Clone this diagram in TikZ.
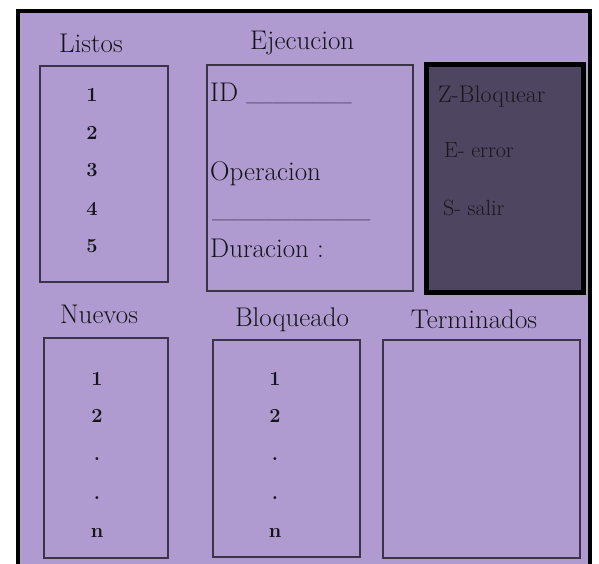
\documentclass[tikz,border=0pt]{standalone}
\begin{document}
\begin{tikzpicture}[x=1pt,y=-1pt,
  listbox/.style={draw=boxline,line width=1.1pt,inner sep=0pt,outer sep=0pt,fill=lavfill},
  hdr/.style={anchor=base,inner sep=0pt,text=txt,font=\fontsize{27}{30}\selectfont},
  hdrw/.style={anchor=base west,inner sep=0pt,text=txt,font=\fontsize{27}{30}\selectfont},
  num/.style={anchor=base,inner sep=0pt,text=txt,font=\fontsize{20}{22}\selectfont\bfseries},
  keytxt/.style={anchor=base west,inner sep=0pt,text=keytext,font=\fontsize{22}{24}\selectfont}]
\definecolor{lavfill}{RGB}{176,155,208}
\definecolor{darkfill}{RGB}{78,69,96}
\definecolor{boxline}{RGB}{60,52,70}
\definecolor{txt}{RGB}{22,20,26}
\definecolor{keytext}{RGB}{25,22,30}
\definecolor{dashline}{RGB}{50,44,60}
\useasboundingbox (0,0) rectangle (599,564);
% outer frame
\fill[white] (0,0) rectangle (599,564);
\fill[lavfill] (17.5,11.5) rectangle (589.5,564);
\draw[black,line width=4pt] (17.5,564) -- (17.5,11.5) -- (589.5,11.5) -- (589.5,564);
% boxes
\node[listbox,minimum width=128pt,minimum height=216pt] (listos) at (104,174) {};
\node[listbox,minimum width=206pt,minimum height=226pt] (ejec) at (310,178) {};
\fill[black!35,opacity=0.5] (427,66) rectangle (587.5,297);
\node[draw=black,line width=5pt,fill=darkfill,inner sep=0pt,outer sep=0pt,minimum width=157pt,minimum height=228pt] (keys) at (505,178.5) {};
\node[listbox,minimum width=124pt,minimum height=220pt] (nuevos) at (106,448) {};
\node[listbox,minimum width=147pt,minimum height=217pt] (bloq) at (286.5,448.5) {};
\node[listbox,minimum width=197pt,minimum height=218pt] (term) at (481.5,449) {};
% headers
\node[hdr] (tListos) at (91,53) {Listos};
\node[hdrw] (tEjec) at (250,50) {Ejecucion};
\node[hdr] (tNuevos) at (99,323) {Nuevos};
\node[hdr] (tBloq) at (292,326) {Bloqueado};
\node[hdr] (tTerm) at (474,328) {Terminados};
% Ejecucion contents
\node[hdrw] (tID) at (210,102) {ID {\fontsize{15.5}{17}\selectfont\color{dashline}\bfseries\_\_\_\_\_\_\_\_}};
\node[hdrw] (tOp) at (210,180) {Operacion};
\node[hdrw,font=\fontsize{15.5}{17}\selectfont\bfseries,text=dashline] (tLine) at (212,218.5) {\_\_\_\_\_\_\_\_\_\_\_\_};
\node[hdrw] (tDur) at (210,257) {Duracion :};
% keys
\node[keytxt,font=\fontsize{24}{26}\selectfont] (kZ) at (438,103) {Z-Bloquear};
\node[keytxt] (kE) at (444,158) {E- error};
\node[keytxt] (kS) at (443,215) {S- salir};
% Listos numbers
\node[num] (l1) at (92,102) {1};
\node[num] (l2) at (92,140) {2};
\node[num] (l3) at (92,177) {3};
\node[num] (l4) at (92,215) {4};
\node[num] (l5) at (92,252) {5};
% Nuevos numbers
\node[num] (n1) at (97,385) {1};
\node[num] (n2) at (97,422) {2};
\node[num] (n3) at (97,460) {.};
\node[num] (n4) at (97,499) {.};
\node[num] (n5) at (97,537) {n};
% Bloqueado numbers
\node[num] (b1) at (275,385) {1};
\node[num] (b2) at (275,422) {2};
\node[num] (b3) at (275,460) {.};
\node[num] (b4) at (275,499) {.};
\node[num] (b5) at (275,537) {n};
\end{tikzpicture}
\end{document}
